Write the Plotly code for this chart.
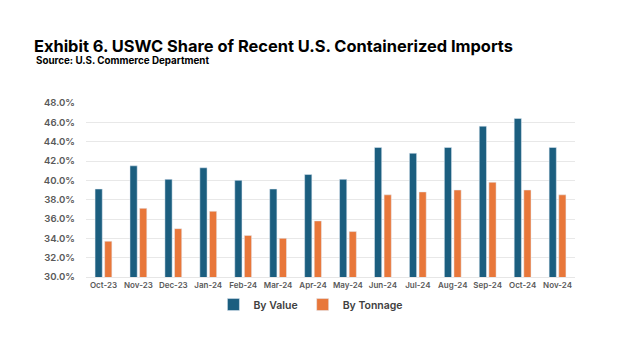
import plotly.graph_objects as go

months = ["Oct-23", "Nov-23", "Dec-23", "Jan-24", "Feb-24", "Mar-24", "Apr-24",
          "May-24", "Jun-24", "Jul-24", "Aug-24", "Sep-24", "Oct-24", "Nov-24"]
by_value = [39.1, 41.5, 40.1, 41.3, 40.0, 39.1, 40.6, 40.1, 43.4, 42.8, 43.4, 45.6, 46.4, 43.4]
by_tonnage = [33.7, 37.1, 35.0, 36.8, 34.3, 34.0, 35.8, 34.7, 38.5, 38.8, 39.0, 39.8, 39.0, 38.5]
y_ticks = [30, 32, 34, 36, 38, 40, 42, 44, 46, 48]

BLUE = "#1b5e7f"
ORANGE = "#e8773a"
FONT = "Inter"

fig = go.Figure()
fig.add_trace(go.Bar(name="By Value", x=months, y=[v / 100 for v in by_value], marker_color=BLUE))
fig.add_trace(go.Bar(name="By Tonnage", x=months, y=[v / 100 for v in by_tonnage], marker_color=ORANGE))

fig.update_layout(
    width=624, height=351,
    margin=dict(l=86, r=49, t=103, b=74),
    paper_bgcolor="white", plot_bgcolor="white",
    barmode="group", bargap=0.45, bargroupgap=0.25,
    font=dict(family=FONT, color="#595959"),
    showlegend=True,
    legend=dict(orientation="h", x=0.46, xanchor="center", y=-0.075, yanchor="top",
                font=dict(size=10.5, color="#404040", family=FONT, weight=600),
                itemwidth=30, traceorder="normal"),
    title=dict(text="<b>Exhibit 6. USWC Share of Recent U.S. Containerized Imports</b>",
               x=34 / 624, xanchor="left", xref="container",
               y=1 - 46 / 351, yanchor="middle", yref="container",
               font=dict(size=16.4, color="#000000", family=FONT)),
    annotations=[dict(text="<b>Source: U.S. Commerce Department</b>",
                      xref="paper", yref="paper", x=(34 - 86) / 489, y=(277 - 61) / 174,
                      xanchor="left", yanchor="middle", showarrow=False,
                      font=dict(size=9.8, color="#000000", family=FONT))],
)
fig.update_xaxes(showgrid=False, showline=True, linecolor="#e6e6e6", ticks="",
                 tickfont=dict(size=8, color="#595959", family=FONT, weight=600))
fig.update_yaxes(range=[0.30, 0.48], tickvals=[t / 100 for t in y_ticks], tickformat=".1%",
                 showgrid=True, gridcolor="#e8e8e8", zeroline=False, showline=False,
                 ticklabelstandoff=10,
                 tickfont=dict(size=9.6, color="#595959", family=FONT, weight=600))

fig.write_html("out.html")
